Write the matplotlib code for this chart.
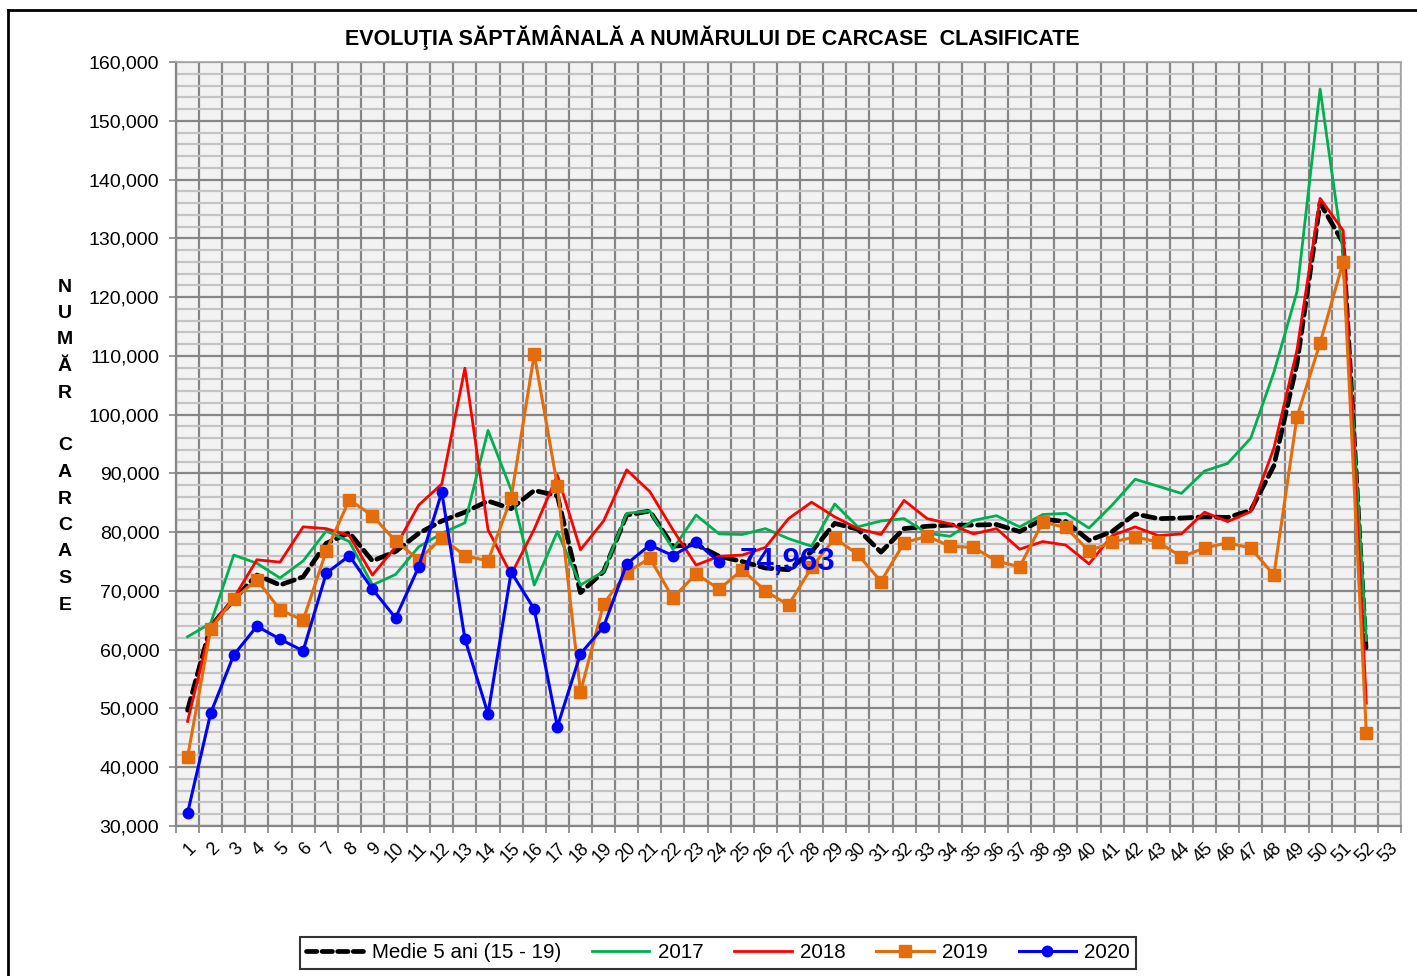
import matplotlib
matplotlib.use("Agg")
import matplotlib.pyplot as plt
from matplotlib.ticker import MultipleLocator, FuncFormatter
from matplotlib.lines import Line2D

plt.rcParams['font.family'] = ['Liberation Sans', 'DejaVu Sans']

weeks = list(range(1, 54))
week_labels = [str(w) for w in weeks]

medie = [49700, 64000, 68500, 72700, 71000, 72400, 78100, 79900, 75100, 76700,
         79800, 81900, 83400, 85300, 84000, 87100, 86200, 69700, 73300, 82900,
         83600, 77600, 77900, 75900, 75000, 73900, 73600, 76700, 81500, 80500,
         76600, 80600, 81000, 81200, 81200, 81300, 80100, 82200, 81800, 78600,
         80100, 83100, 82300, 82400, 82600, 82500, 83700, 91300, 108700, 136000,
         129200, 59300]

y2017 = [62200, 64500, 76100, 74700, 72200, 75100, 80200, 78400, 71000, 72800,
         77500, 79800, 81600, 97300, 87200, 71000, 80100, 71000, 73300, 83200,
         83600, 77100, 82900, 79700, 79600, 80600, 78900, 77600, 84800, 80900,
         81900, 82300, 79800, 79300, 82000, 82800, 80900, 83000, 83200, 80700,
         84600, 89000, 87800, 86600, 90400, 91700, 96000, 107200, 120900, 155400,
         127500, 61600]

y2018 = [47800, 64000, 68800, 75300, 74900, 80900, 80600, 79400, 72700, 77500,
         84600, 88200, 107900, 80400, 72800, 80500, 89700, 77000, 81900, 90600,
         86900, 80400, 74400, 75900, 76100, 77400, 82300, 85100, 82600, 80600,
         79600, 85400, 82300, 81400, 79700, 80600, 77100, 78400, 77800, 74600,
         79400, 80900, 79400, 79700, 83400, 81800, 83500, 94300, 111000, 136800,
         131300, 50900]

y2019 = [41700, 63500, 68600, 71900, 66800, 65000, 76800, 85500, 82800, 78500,
         75300, 79000, 76000, 75100, 85800, 110300, 87900, 52800, 67800, 73100,
         75600, 68800, 72900, 70300, 73600, 70000, 67600, 74000, 79000, 76200,
         71600, 78200, 79300, 77600, 77400, 75100, 74100, 81700, 80800, 76800,
         78300, 79200, 78300, 75800, 77300, 78200, 77300, 72700, 99600, 112200,
         126000, 45800]

y2020 = [32200, 49200, 59100, 64000, 61800, 59800, 73000, 76000, 70300, 65400,
         74100, 86800, 61800, 49100, 73200, 66900, 46900, 59300, 63900, 74600,
         77800, 76000, 78300, 74963]

series_names = ['Medie 5 ani (15 - 19)', '2017', '2018', '2019', '2020']
title = 'EVOLUŢIA SĂPTĂMÂNALĂ A NUMĂRULUI DE CARCASE  CLASIFICATE'
ylabel_letters = ['N', 'U', 'M', 'Ă', 'R', '', 'C', 'A', 'R', 'C', 'A', 'S', 'E']

fig = plt.figure(figsize=(14.17, 9.76), dpi=100)
ax = fig.add_axes([176/1417, 1-826/976, (1401-176)/1417, (826-62)/976])
ax.set_facecolor('#f2f2f2')

x52 = weeks[:len(medie)]
ax.plot(x52, medie, color='black', lw=3.4, dashes=(2.6, 1.3), dash_capstyle='round', zorder=3)
ax.plot(x52, y2017, color='#00b050', lw=2.0, zorder=4)
ax.plot(x52, y2018, color='#ff0000', lw=2.0, zorder=5)
ax.plot(x52, y2019, color='#e46c0a', lw=2.2, marker='s', ms=8.5, zorder=6)
ax.plot(weeks[:len(y2020)], y2020, color='#0000ff', lw=2.2, marker='o', ms=7.5, zorder=7)

ax.annotate(f"{y2020[-1]:,}", xy=(len(y2020), y2020[-1]), xytext=(15, 0),
            textcoords='offset points', ha='left', va='center',
            fontsize=22.5, fontweight='bold', color='#0000ff', zorder=8)

ax.set_xlim(0.5, 53.5)
ax.set_ylim(30000, 160000)
ax.set_xticks(weeks)
ax.set_xticklabels(week_labels, rotation=45, ha='right', va='top', rotation_mode='anchor', fontsize=13)
ax.xaxis.set_minor_locator(MultipleLocator(1, offset=0.5))
ax.tick_params(axis='x', which='major', length=0, pad=10)
ax.tick_params(axis='x', which='minor', length=5, color='#868686', width=1.2)
ax.yaxis.set_major_locator(MultipleLocator(10000))
ax.yaxis.set_minor_locator(MultipleLocator(2000))
ax.yaxis.set_major_formatter(FuncFormatter(lambda v, p: f"{int(v):,}"))
ax.tick_params(axis='y', which='major', length=5, color='#868686', width=1.2, labelsize=14, pad=7)
ax.tick_params(axis='y', which='minor', length=0)

ax.grid(axis='y', which='minor', color='#c4c4c4', lw=1.6, zorder=0)
ax.grid(axis='y', which='major', color='#868686', lw=1.6, zorder=1)
ax.grid(axis='x', which='minor', color='#868686', lw=1.6, zorder=1)
ax.grid(axis='x', which='major', visible=False)
ax.set_axisbelow(True)
for s in ['top', 'right']:
    ax.spines[s].set_color('#a6a6a6')
    ax.spines[s].set_linewidth(1.2)
for s in ['left', 'bottom']:
    ax.spines[s].set_color('#868686')
    ax.spines[s].set_linewidth(1.6)

fig.text(712/1417, 1-38/976, title, ha='center', va='center', fontsize=15.5, fontweight='bold')

for i, ch in enumerate(ylabel_letters):
    if ch:
        fig.text(65/1417, 1-(287 + i*26.5)/976, ch, ha='center', va='center', fontsize=14, fontweight='bold')

handles = [
    Line2D([], [], color='black', lw=3.4, dashes=(2.2, 1.1), dash_capstyle='round'),
    Line2D([], [], color='#00b050', lw=2.0),
    Line2D([], [], color='#ff0000', lw=2.0),
    Line2D([], [], color='#e46c0a', lw=2.2, marker='s', ms=8.5),
    Line2D([], [], color='#0000ff', lw=2.2, marker='o', ms=7.5),
]
leg = fig.legend(handles, series_names, loc='center', bbox_to_anchor=(718/1417, 1-953/976),
                 ncol=5, fontsize=14.8, frameon=True, fancybox=False, handlelength=2.8,
                 columnspacing=1.5, handletextpad=0.4, borderpad=0.3, borderaxespad=0)
leg.get_frame().set_edgecolor('black')
leg.get_frame().set_linewidth(1.5)

fig.add_artist(Line2D([8/1417, 8/1417], [0, 1-10/976], color='black', lw=2, transform=fig.transFigure))
fig.add_artist(Line2D([8/1417, 1], [1-10/976, 1-10/976], color='black', lw=2, transform=fig.transFigure))

fig.savefig('out.png', dpi=100)
